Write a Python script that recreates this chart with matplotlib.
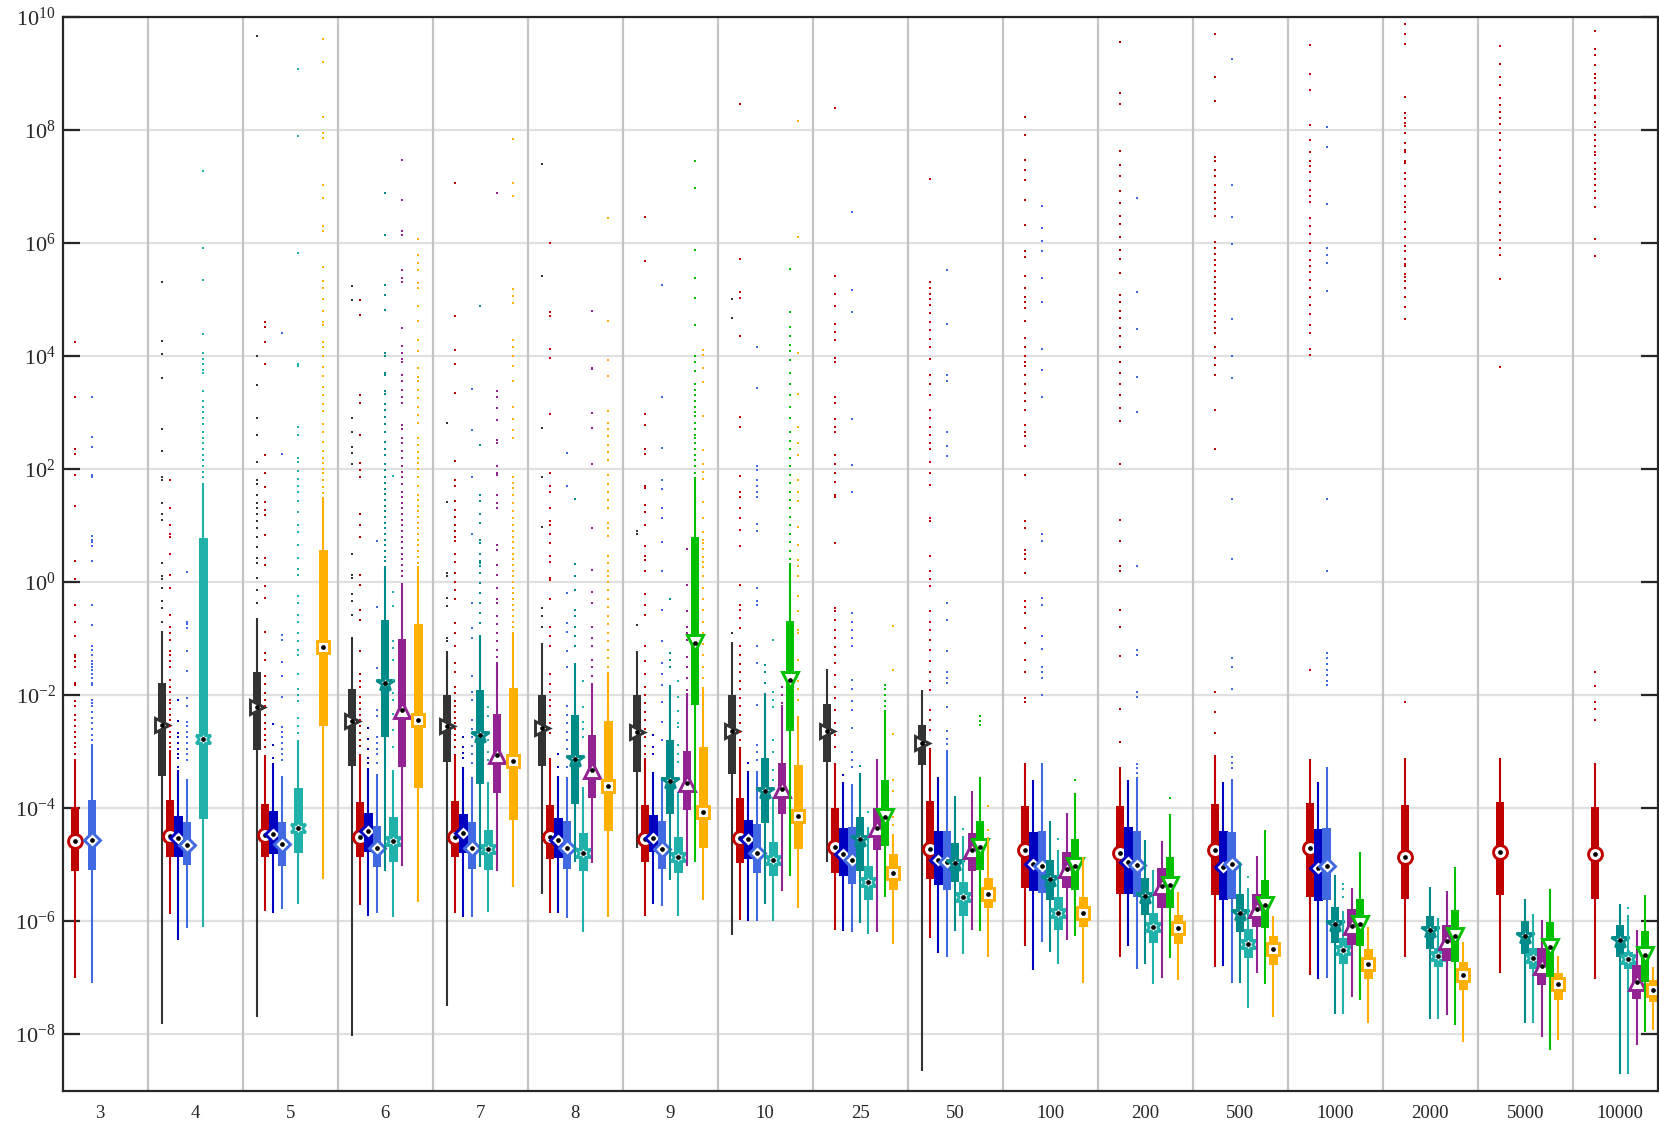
import numpy as np
import matplotlib
matplotlib.use("Agg")
import matplotlib.pyplot as plt
from matplotlib.ticker import NullLocator

plt.rcParams['font.family'] = ['Liberation Serif', 'DejaVu Serif']
plt.rcParams['mathtext.fontset'] = 'custom'
plt.rcParams['mathtext.rm'] = 'Liberation Serif'
plt.rcParams['mathtext.it'] = 'Liberation Serif:italic'

groups = ['3', '4', '5', '6', '7', '8', '9', '10', '25', '50', '100',
          '200', '500', '1000', '2000', '5000', '10000']

# box stats in log10: (whisker low, q1, median, q3, whisker high)
black_stats = {
    '4': (-7.82, -3.44, -2.53, -1.78, -0.86),
    '5': (-7.7, -2.98, -2.21, -1.59, -0.64),
    '6': (-8.03, -3.25, -2.46, -1.89, -0.98),
    '7': (-7.5, -3.18, -2.54, -2.0, -1.23),
    '8': (-5.52, -3.25, -2.59, -2.0, -1.08),
    '9': (-4.7, -3.36, -2.65, -2.0, -1.23),
    '10': (-6.25, -3.4, -2.63, -2.0, -1.07),
    '25': (-4.96, -3.19, -2.63, -2.16, -1.54),
    '50': (-8.66, -3.23, -2.85, -2.53, -1.91),
}
black_out = {
    '4': [5.31, 4.27, 4.03, 3.6, 2.71, 2.31, 1.86, 1.8, 1.39, 1.2, 1.1, 0.33, 0.1, 0.05, -0.1, -0.34, -0.46, -0.7],
    '5': [9.66, 3.99, 3.48, 2.9, 2.6, 2.12, 1.8, 1.73, 1.54, 1.4, 1.3, 1.21, 1.08, 0.95, 0.8, 0.62, 0.42, 0.33, 0.07, -0.14, -0.37],
    '6': [5.23, 4.98, 2.9, 2.65, 2.39, 2.29, 2.09, 0.49, 0.13, 0.07, -0.22, -0.34, -0.58],
    '7': [2.82, 1.41, 0.16, 0.1, -0.28, -0.43, -0.99, -1.05],
    '8': [7.39, 5.41, 2.73, 1.86, 0.98, -0.46, -0.6, -0.79],
    '9': [0.9, 0.85, -0.76],
    '10': [5.0, 4.67, -0.9],
}

red_stats = {
    '3': (-7.0, -5.12, -4.59, -3.98, -3.14),
    '4': (-5.87, -4.87, -4.49, -3.86, -2.98),
    '5': (-5.82, -4.86, -4.47, -3.93, -3.07),
    '6': (-5.71, -4.86, -4.51, -3.9, -3.04),
    '7': (-5.86, -4.87, -4.51, -3.88, -3.04),
    '8': (-5.85, -4.9, -4.51, -3.95, -3.12),
    '9': (-5.91, -4.96, -4.54, -3.94, -3.12),
    '10': (-5.98, -4.97, -4.53, -3.82, -2.92),
    '25': (-6.16, -5.14, -4.68, -3.99, -3.2),
    '50': (-6.29, -5.25, -4.73, -3.88, -2.93),
    '100': (-6.44, -5.41, -4.74, -3.97, -3.2),
    '200': (-6.63, -5.52, -4.8, -3.97, -3.27),
    '500': (-6.82, -5.54, -4.74, -3.93, -3.07),
    '1000': (-6.95, -5.58, -4.71, -3.91, -3.14),
    '2000': (-6.63, -5.6, -4.86, -3.94, -3.12),
    '5000': (-6.91, -5.54, -4.77, -3.9, -3.11),
    '10000': (-7.03, -5.61, -4.82, -3.98, -3.21),
}
red_out = {
    '3': [4.24, 3.27, 2.35, 2.27, 1.9, 1.34, 0.37, 0.06, -0.41, -0.7, -0.96, -1.29, -1.33, -1.4, -1.5, -1.78, -1.82,
          -2.1, -2.2, -2.35, -2.45, -2.55, -2.65, -2.75, -2.85, -2.92, -3.05],
    '4': [1.8, 1.31, 1.0, 0.85, 0.79, 0.5, 0.13, -0.11, -0.58, -0.79, -0.9, -1.02, -1.23, -1.3, -1.4, -1.5, -1.73,
          -1.85, -1.95, -2.09, -2.15, -2.25, -2.35, -2.45, -2.55, -2.65, -2.75, -2.85, -2.92],
    '5': [4.6, 4.51, 4.24, 3.86, 2.25, 1.93, 1.68, 1.42, 1.27, 1.18, 0.83, 0.42, 0.3, -0.08, -0.28, -0.88, -1.26,
          -1.38, -1.67, -1.8, -1.97, -2.09, -2.2, -2.35, -2.5, -2.6, -2.7, -2.8, -2.92],
    '6': [4.98, 4.72, 3.31, 3.17, 2.6, 2.11, 1.98, 1.85, 1.21, 1.01, 0.79, 0.13, -0.05, -0.49, -0.67, -1.23, -1.62,
          -1.75, -1.85, -2.03, -2.15, -2.25, -2.35, -2.45, -2.55, -2.68, -2.8, -2.9],
    '7': [7.05, 4.71, 4.1, 3.86, 3.35, 2.14, 1.8, 1.7, 1.44, 1.27, 1.15, 1.01, 0.91, 0.8, 0.72, 0.49, 0.36, 0.16,
          0.0, -0.15, -0.31, -0.73, -0.9, -1.14, -1.44, -1.6, -1.85, -1.97, -2.1, -2.2, -2.3, -2.4, -2.5, -2.6,
          -2.7, -2.8, -2.92],
    '8': [5.99, 4.78, 4.71, 4.12, 3.97, 2.97, 1.93, 1.7, 1.6, 1.31, 1.08, 1.01, 0.85, 0.69, 0.46, 0.36, 0.07, 0.04,
          -0.31, -0.79, -0.95, -1.14, -1.62, -1.8, -1.95, -2.09, -2.2, -2.35, -2.5, -2.68],
    '9': [6.45, 5.67, 2.97, 2.78, 2.35, 2.27, 1.7, 1.66, 1.37, 1.24, 1.01, 0.63, 0.46, 0.39, 0.2, -0.22, -0.4,
          -0.58, -1.14, -1.4, -1.62, -1.85, -2.0, -2.15, -2.3, -2.45, -2.6, -2.75, -2.9, -3.05],
    '10': [8.46, 5.72, 5.13, 5.03, 4.36, 2.91, 2.75, 1.88, 1.6, 1.5, 1.31, 1.14, 0.92, 0.63, -0.05, -0.4, -0.5,
           -0.64, -0.82, -1.14, -1.3, -1.45, -1.6, -1.75, -1.9, -2.05, -2.2, -2.35, -2.5, -2.65, -2.8],
    '25': [8.38, 5.41, 5.1, 4.88, 4.56, 4.42, 4.28, 3.97, 3.9, 3.27, 3.17, 2.88, 2.75, 2.65, 2.25, 2.09, 1.93,
           1.76, 1.54, 1.5, 0.69, -0.46, -0.52, -0.67, -0.85, -1.0, -1.15, -1.3, -1.44, -1.64, -1.85, -2.06,
           -2.27, -2.5, -2.7, -2.92],
    '50': [7.12, 5.31, 5.2, 5.1, 5.0, 4.9, 4.75, 4.6, 4.45, 4.3, 4.15, 3.95, 3.66, 3.5, 3.3, 3.05, 2.9, 2.75,
           2.6, 2.45, 2.35, 2.12, 1.93, 1.72, 1.14, 1.08, 0.46, 0.2, 0.05, -0.08, -0.52, -0.7, -0.85, -1.02,
           -1.2, -1.4, -1.6, -1.75, -1.91, -2.27, -2.45, -2.62],
    '100': [8.22, 7.91, 7.47, 7.29, 7.11, 6.75, 6.31, 5.86, 5.74, 5.41, 5.2, 5.05, 4.95, 4.84, 4.62, 4.31, 4.15,
            4.0, 3.9, 3.82, 3.66, 3.5, 3.35, 3.2, 3.04, 2.78, 2.65, 2.58, 2.4, 1.89, 1.08, 0.95, 0.56, 0.49,
            0.4, 0.15, -0.34, -0.45, -0.55, -0.82, -1.08, -1.38, -1.59, -2.06, -2.12],
    '200': [9.55, 8.65, 8.45, 7.63, 7.37, 7.18, 6.92, 6.71, 6.48, 6.34, 6.1, 5.88, 5.72, 5.46, 5.07, 4.95, 4.8,
            4.67, 4.5, 4.35, 4.15, 3.89, 3.7, 3.5, 3.3, 3.07, 2.84, 2.08, 1.09, 0.72, 0.29, 0.2, -0.5, -0.8,
            -1.31, -2.24, -2.83],
    '500': [9.69, 8.94, 8.5, 7.52, 7.45, 7.28, 7.19, 7.03, 6.9, 6.8, 6.7, 6.6, 6.47, 6.01, 5.9, 5.8, 5.7, 5.6,
            5.5, 5.4, 5.3, 5.2, 5.1, 5.0, 4.9, 4.8, 4.7, 4.6, 4.5, 4.41, 4.15, 3.97, 3.84, 3.67, 3.05, 2.35,
            -1.94, -2.3, -2.67],
    '1000': [9.5, 8.98, 8.7, 8.09, 7.82, 7.6, 7.45, 7.35, 7.25, 7.09, 6.93, 6.83, 6.73, 6.44, 6.3, 6.15, 6.0,
             5.85, 5.7, 5.59, 5.49, 5.35, 5.2, 5.05, 4.9, 4.74, 4.54, 4.41, 4.12, 4.02, -1.56],
    '2000': [9.87, 9.69, 9.52, 8.58, 8.3, 8.2, 8.12, 8.07, 7.95, 7.76, 7.65, 7.6, 7.45, 7.42, 7.24, 7.12, 7.0,
             6.83, 6.73, 6.63, 6.54, 6.37, 6.24, 6.1, 5.95, 5.85, 5.72, 5.63, 5.59, 5.45, 5.39, 5.33, 5.2,
             5.05, 4.87, 4.66, -2.12],
    '5000': [9.48, 9.16, 8.94, 8.8, 8.56, 8.43, 8.31, 8.2, 8.1, 7.94, 7.81, 7.65, 7.5, 7.35, 7.22, 7.05, 6.9,
             6.73, 6.6, 6.47, 6.31, 6.18, 6.05, 5.9, 5.78, 5.36, 3.81],
    '10000': [9.74, 9.42, 9.33, 9.15, 8.99, 8.92, 8.82, 8.7, 8.6, 8.56, 8.43, 8.3, 8.14, 8.04, 7.9, 7.81, 7.71,
              7.6, 7.55, 7.42, 7.3, 7.22, 7.12, 7.03, 6.91, 6.8, 6.64, 6.07, 5.77, -1.59, -1.84, -2.12, -2.25,
              -2.44],
}

dblue_stats = {
    '4': (-6.34, -4.86, -4.53, -4.14, -3.33),
    '5': (-5.86, -4.81, -4.46, -4.06, -3.21),
    '6': (-5.91, -4.77, -4.41, -4.08, -3.3),
    '7': (-5.93, -4.8, -4.44, -4.1, -3.27),
    '8': (-5.86, -4.88, -4.56, -4.17, -3.44),
    '9': (-5.7, -4.77, -4.53, -4.12, -3.36),
    '10': (-5.99, -4.9, -4.54, -4.21, -3.34),
    '25': (-6.18, -5.2, -4.81, -4.35, -3.54),
    '50': (-6.56, -5.36, -4.92, -4.4, -3.45),
    '100': (-6.87, -5.46, -4.99, -4.43, -3.51),
    '200': (-6.44, -5.52, -4.95, -4.33, -3.5),
    '500': (-6.79, -5.63, -5.05, -4.41, -3.54),
    '1000': (-7.03, -5.64, -5.06, -4.37, -3.54),
}
dblue_out = {
    '4': [-2.08, -2.46, -2.68, -2.75, -2.85, -2.95, -3.04, -3.12, -3.27],
    '5': [-2.51, -2.89, -3.12],
    '6': [-2.59, -2.77, -2.95, -3.12, -3.21],
    '7': [-2.75, -2.92, -3.02, -3.12],
    '8': [-3.04, -3.27],
    '9': [-2.71, -2.92, -3.04],
    '10': [-3.21],
    '25': [-3.42],
}

royal_stats = {
    '3': (-7.09, -5.10, -4.56, -3.85, -2.86),
    '4': (-6.12, -5.0, -4.65, -4.25, -3.48),
    '5': (-5.78, -5.03, -4.63, -4.25, -3.44),
    '6': (-5.85, -5.05, -4.7, -4.31, -3.39),
    '7': (-5.93, -5.08, -4.7, -4.25, -3.45),
    '8': (-5.95, -5.08, -4.7, -4.22, -3.45),
    '9': (-5.73, -5.07, -4.72, -4.22, -3.45),
    '10': (-5.99, -5.15, -4.79, -4.28, -3.34),
    '25': (-6.2, -5.34, -4.92, -4.34, -3.57),
    '50': (-6.63, -5.45, -4.96, -4.4, -2.98),
    '100': (-6.37, -5.5, -5.02, -4.4, -3.21),
    '200': (-6.85, -5.58, -5.01, -4.41, -3.45),
    '500': (-7.1, -5.61, -4.99, -4.43, -3.48),
    '1000': (-7.01, -5.63, -5.03, -4.35, -3.28),
}
royal_out = {
    '3': [3.27, 2.56, 2.38, 1.9, 1.85, 0.82, 0.75, 0.7, 0.63, 0.37, -0.4, -0.76, -1.14, -1.2, -1.3, -1.4, -1.45,
          -1.5, -1.55, -1.62, -1.7, -1.78, -1.82, -2.09, -2.15, -2.2, -2.3, -2.4, -2.5, -2.6, -2.7, -2.8],
    '4': [0.18, -0.7, -0.75, -0.82, -1.23, -1.57, -2.06, -2.2, -2.47, -2.55, -2.65, -2.75, -2.85, -2.95, -3.05,
          -3.15],
    '5': [4.41, 2.27, -0.93, -1.02, -1.41, -1.67, -2.03, -2.56, -2.65, -2.75, -2.85, -2.95, -3.05, -3.15],
    '6': [0.72, -0.44, -1.53, -2.27, -2.38, -2.74, -2.85, -2.95, -3.05, -3.21],
    '7': [3.42, 2.69, 1.86, 0.85, -0.37, -0.82, -0.99, -1.67, -1.94, -2.09, -2.44, -2.6, -2.75, -2.9, -3.05, -3.2],
    '8': [2.29, 1.7, -0.2, -0.73, -0.88, -1.23, -1.5, -2.2, -2.35, -2.5, -2.65, -2.8, -2.95, -3.1, -3.27],
    '9': [5.25, 3.28, 2.37, 1.8, 1.64, 1.3, 1.14, 0.7, 0.2, -0.49, -1.05, -1.44, -1.62, -1.82, -2.12, -2.47, -2.8],
    '10': [4.15, 3.44, 2.05, 1.98, 1.81, 1.7, 1.6, 1.5, 1.03, 0.9, -0.11, -0.34, -0.4, -1.14, -1.44, -2.18, -2.89,
           -3.0, -3.15],
    '25': [6.54, 5.16, 4.77, 2.88, 2.07, 1.59, -0.55, -0.7, -0.85, -1.0, -1.14, -1.73, -1.9, -2.1, -2.27, -2.59,
           -3.0, -3.15, -3.27],
    '50': [5.51, 4.57, 3.66, 3.55, 2.65, 2.4, 2.22, -0.37, -0.67, -1.23, -1.59, -1.7, -1.79, -2.21, -2.63, -2.77,
           -2.86],
    '100': [6.65, 6.27, 6.03, 5.85, 5.38, 4.96, 4.13, 3.75, 3.27, 0.85, 0.72, -0.28, -0.4, -0.95, -1.19, -1.5,
            -1.6, -1.7, -2.0],
    '200': [6.79, 5.13, 4.48, 3.62, 3.01, 0.28, -1.2, -1.3, -1.94, -2.03, -3.22, -3.3, -3.38],
    '500': [9.25, 7.03, 6.46, 5.98, 4.65, 3.99, 3.6, 1.47, 0.41, -1.35, -1.5, -1.9, -3.1, -3.2, -3.3],
    '1000': [8.04, 7.7, 6.68, 5.9, 5.78, 5.65, 5.14, 1.47, 0.2, -1.26, -1.35, -1.45, -1.55, -1.65, -1.75, -1.82],
}

teal_stats = {
    '6': (-5.11, -2.75, -1.79, -0.67, 0.28),
    '7': (-5.05, -3.58, -2.71, -1.91, -0.93),
    '8': (-4.96, -3.92, -3.14, -2.36, -1.44),
    '9': (-5.28, -4.1, -3.53, -2.79, -1.82),
    '10': (-5.69, -4.27, -3.69, -3.12, -1.97),
    '25': (-6.04, -5.11, -4.54, -4.16, -3.38),
    '50': (-6.17, -5.3, -4.97, -4.62, -3.79),
    '100': (-6.54, -5.63, -5.25, -4.92, -4.22),
    '200': (-6.76, -5.9, -5.56, -5.24, -4.57),
    '500': (-7.09, -6.2, -5.86, -5.52, -4.96),
    '1000': (-7.64, -6.39, -6.05, -5.75, -5.18),
    '2000': (-7.74, -6.5, -6.16, -5.91, -5.39),
    '5000': (-7.81, -6.58, -6.27, -5.99, -5.6),
    '10000': (-8.7, -6.63, -6.34, -6.06, -5.69),
}
teal_out = {
    '6': [6.88, 6.13, 5.25, 5.07, 4.82, 4.05, 3.99, 3.69, 3.66, 3.37, 3.33, 3.14, 3.04, 2.91, 2.8, 2.65, 2.48,
          2.35, 2.25, 2.09, 1.98, 1.86, 1.75, 1.65, 1.55, 1.45, 1.35, 1.25, 1.15, 1.05, 0.95, 0.85, 0.75, 0.65,
          0.55, 0.45, 0.37],
    '7': [4.89, 2.42, 1.54, 1.44, 1.21, 1.05, 0.75, 0.69, 0.5, 0.37, 0.33, 0.28, 0.16, -0.02, -0.2, -0.37, -0.55,
          -0.73],
    '8': [1.47, 0.31, 0.1, -0.14, -0.49, -0.61, -0.79, -0.95, -1.14],
    '9': [-0.31, -1.26, -1.38, -1.5],
    '10': [-1.47, -1.6, -1.79],
    '25': [-3.26],
}

turq_stats = {
    '4': (-6.1, -4.19, -2.77, 0.78, 1.75),
    '5': (-5.69, -4.8, -4.36, -3.64, -2.79),
    '6': (-5.93, -4.96, -4.59, -4.16, -3.33),
    '7': (-5.83, -5.09, -4.73, -4.38, -3.54),
    '8': (-6.2, -5.12, -4.79, -4.44, -3.63),
    '9': (-5.91, -5.14, -4.86, -4.51, -3.72),
    '10': (-5.99, -5.21, -4.92, -4.6, -3.8),
    '25': (-6.23, -5.63, -5.3, -5.02, -4.34),
    '50': (-6.59, -5.91, -5.58, -5.31, -4.5),
    '100': (-6.75, -6.15, -5.86, -5.58, -4.75),
    '200': (-7.12, -6.38, -6.1, -5.85, -5.09),
    '500': (-7.54, -6.66, -6.4, -6.14, -5.41),
    '1000': (-7.64, -6.76, -6.51, -6.3, -5.82),
    '2000': (-7.74, -6.81, -6.61, -6.48, -5.95),
    '5000': (-7.81, -6.84, -6.66, -6.48, -5.88),
    '10000': (-8.7, -6.84, -6.67, -6.54, -5.9),
}
turq_out = {
    '4': [7.27, 5.9, 5.34, 4.39, 4.05, 3.95, 3.85, 3.75, 3.7, 3.37, 3.2, 3.1, 3.0, 2.9, 2.8, 2.65, 2.55, 2.45,
          2.35, 2.25, 2.15, 2.05, 1.95, 1.85],
    '5': [9.08, 7.89, 5.82, 3.86, 3.82, 2.75, 2.6, 2.19, 2.12, 1.96, 1.83, 1.7, 1.6, 1.44, 1.24, 1.0, 0.88, 0.65,
          0.42, 0.23, 0.13, -0.25, -0.37, -0.58, -0.7, -0.9, -1.05, -1.2, -1.3, -1.62, -1.9, -2.0, -2.1, -2.4,
          -2.55, -2.68],
    '6': [1.88, -0.17, -0.43, -1.05, -1.17, -1.38, -1.73, -1.97, -2.09, -2.33, -2.62, -2.92],
    '7': [-2.21, -2.38, -2.8, -3.0, -3.15],
    '8': [-1.76, -2.21, -2.47, -2.6, -2.74],
    '9': [-1.76, -2.03, -2.28, -2.5, -2.56, -2.89, -3.04, -3.18],
    '10': [-1.02, -1.94, -2.08, -2.21, -2.8, -3.0, -3.33, -3.51],
    '25': [-4.07],
    '50': [-4.37],
    '100': [-4.54],
    '500': [-5.22],
    '1000': [-5.34, -5.43, -5.58],
    '10000': [-5.76],
}

purple_stats = {
    '6': (-5.02, -3.28, -2.27, -1.01, -0.02),
    '7': (-5.11, -3.73, -3.07, -2.33, -1.41),
    '8': (-4.98, -3.82, -3.32, -2.7, -1.79),
    '9': (-5.02, -4.03, -3.55, -2.99, -1.97),
    '10': (-5.46, -4.11, -3.67, -3.2, -2.18),
    '25': (-6.2, -4.75, -4.36, -3.99, -3.14),
    '50': (-6.15, -5.12, -4.74, -4.44, -3.7),
    '100': (-6.34, -5.42, -5.08, -4.78, -4.09),
    '200': (-7.01, -5.77, -5.38, -5.06, -4.59),
    '500': (-6.91, -6.11, -5.79, -5.52, -4.84),
    '1000': (-7.34, -6.42, -6.08, -5.79, -5.41),
    '2000': (-7.66, -6.7, -6.35, -6.07, -5.47),
    '5000': (-8.05, -7.13, -6.8, -6.48, -5.98),
    '10000': (-8.19, -7.38, -7.07, -6.78, -6.16),
}
purple_out = {
    '6': [7.47, 6.75, 6.2, 6.13, 5.51, 5.38, 5.31, 4.49, 4.18, 4.05, 3.95, 3.89, 3.66, 3.56, 3.4, 3.28, 3.17, 2.78,
          2.71, 2.55, 2.45, 2.32, 2.2, 2.05, 1.95, 1.86, 1.73, 1.6, 1.5, 1.4, 1.3, 1.2, 1.1, 1.0, 0.9, 0.8, 0.7,
          0.6, 0.5, 0.4, 0.3, 0.2, 0.1],
    '7': [6.88, 3.37, 3.27, 3.07, 2.86, 2.52, 2.45, 2.06, 1.93, 1.9, 1.54, 1.4, 1.31, 0.65, 0.56, 0.3, 0.13,
          -0.11, -0.31, -0.37, -0.61, -0.75, -0.9, -1.05, -1.2, -1.32],
    '8': [4.79, 3.79, 3.76, 2.99, 2.73, 2.08, 0.96, 0.22, -0.17, -0.37, -0.79, -1.0, -1.14, -1.38, -1.5, -1.67],
    '9': [0.59, -0.05, -0.52, -0.79, -0.9, -1.02, -1.32, -1.5, -1.7, -1.91],
    '10': [-1.85, -2.0, -2.15],
}

green_stats = {
    '9': (-4.96, -2.18, -1.08, 0.8, 1.85),
    '10': (-5.2, -2.64, -1.73, -0.69, 0.34),
    '25': (-5.58, -4.67, -4.16, -3.5, -2.27),
    '50': (-6.17, -5.09, -4.68, -4.23, -3.45),
    '100': (-6.27, -5.45, -5.03, -4.54, -3.73),
    '200': (-6.66, -5.77, -5.36, -4.87, -4.11),
    '500': (-7.11, -6.13, -5.71, -5.27, -4.38),
    '1000': (-7.4, -6.44, -6.05, -5.61, -4.78),
    '2000': (-7.84, -6.72, -6.27, -5.81, -5.04),
    '5000': (-8.28, -6.99, -6.45, -6.01, -5.44),
    '10000': (-7.97, -7.07, -6.6, -6.17, -5.54),
}
green_out = {
    '9': [7.44, 6.97, 5.87, 5.38, 5.03, 4.54, 3.99, 3.9, 3.74, 3.5, 3.4, 3.3, 3.2, 3.1, 3.0, 2.94, 2.81, 2.7,
          2.6, 2.55, 2.45, 2.35, 2.25, 2.15, 2.05, 1.93],
    '10': [5.54, 4.77, 4.51, 4.35, 4.2, 4.08, 3.92, 3.7, 3.5, 3.3, 3.1, 2.9, 2.65, 2.5, 2.35, 2.2, 2.05, 1.9,
           1.75, 1.6, 1.45, 1.3, 1.15, 1.0, 0.85, 0.7, 0.55, 0.4],
    '25': [-1.82, -1.9, -2.0, -2.1, -2.2],
    '50': [-2.38, -2.46, -2.53],
    '100': [-3.5],
    '200': [-3.83],
}

orange_stats = {
    '5': (-5.25, -2.55, -1.15, 0.56, 1.5),
    '6': (-5.67, -3.64, -2.44, -0.74, 0.28),
    '7': (-5.4, -4.21, -3.17, -1.88, -0.88),
    '8': (-5.93, -4.41, -3.61, -2.46, -1.59),
    '9': (-5.63, -4.71, -4.07, -2.92, -1.85),
    '10': (-5.76, -4.72, -4.14, -3.23, -2.38),
    '25': (-6.41, -5.45, -5.14, -4.82, -4.45),
    '50': (-6.64, -5.77, -5.52, -5.24, -4.51),
    '100': (-7.09, -6.11, -5.85, -5.58, -4.87),
    '200': (-7.05, -6.41, -6.12, -5.89, -5.48),
    '500': (-7.69, -6.78, -6.5, -6.26, -5.91),
    '1000': (-7.8, -7.02, -6.75, -6.5, -6.11),
    '2000': (-8.14, -7.22, -6.96, -6.72, -6.37),
    '5000': (-8.11, -7.4, -7.12, -6.91, -6.62),
    '10000': (-7.93, -7.43, -7.21, -7.04, -6.81),
}
orange_out = {
    '5': [9.6, 9.2, 8.22, 7.94, 7.86, 7.03, 6.8, 6.3, 6.2, 5.58, 5.33, 5.2, 5.01, 4.8, 4.6, 4.55, 4.25, 4.15, 3.99,
          3.8, 3.65, 3.45, 3.3, 3.15, 3.03, 2.8, 2.65, 2.48, 2.32, 2.2, 2.1, 2.0, 1.93, 1.8, 1.68, 1.57],
    '6': [6.06, 5.78, 5.65, 5.51, 5.29, 5.2, 4.88, 4.61, 4.28, 4.08, 3.79, 3.63, 3.56, 3.4, 3.25, 3.1, 2.95, 2.81,
          2.55, 2.42, 2.3, 2.2, 2.1, 2.0, 1.86, 1.7, 1.54, 1.45, 1.35, 1.25, 1.15, 1.05, 0.95, 0.85, 0.75, 0.65,
          0.55, 0.45, 0.34],
    '7': [7.83, 7.05, 6.82, 5.18, 5.06, 4.93, 4.28, 4.15, 4.0, 3.82, 3.56, 3.1, 2.89, 2.68, 2.55, 1.86, 1.75, 1.67,
          1.54, 1.4, 1.25, 1.14, 1.01, 0.9, 0.8, 0.7, 0.6, 0.5, 0.4, 0.3, 0.2, 0.1, 0.0, -0.1, -0.2, -0.3, -0.4,
          -0.5, -0.6, -0.7, -0.8],
    '8': [6.44, 4.62, 3.92, 3.65, 3.03, 2.81, 2.7, 2.58, 2.42, 2.3, 2.16, 1.9, 1.73, 1.6, 1.45, 1.31, 1.05, 0.95,
          0.82, 0.46, 0.33, 0.2, 0.1, 0.0, -0.15, -0.3, -0.45, -0.6, -0.75, -0.9, -1.05, -1.2, -1.35, -1.5],
    '9': [4.1, 4.01, 3.78, 3.54, 2.94, 2.34, 2.09, 1.95, 1.83, 1.42, 1.14, 0.88, 0.75, 0.69, 0.59, 0.45, 0.35,
          0.26, 0.1, -0.1, -0.3, -0.5, -0.7, -0.9, -1.1, -1.3, -1.5, -1.7],
    '10': [8.15, 6.11, 4.05, 3.33, 2.75, 2.45, 2.25, 1.8, 1.6, 1.44, 0.98, 0.65, 0.39, 0.29, 0.1, -0.25, -0.52,
           -0.85, -0.9, -1.38, -1.76, -1.9, -2.09],
    '25': [-0.78, -1.56, -2.69, -3.51, -3.69, -4.16, -4.3],
    '50': [-3.97, -4.38],
}

hexagram = (6, 1, 0)

# (stats, outliers, colour, median marker, marker size) in slot order inside each group
series = [
    (black_stats, black_out, '#333333', '>', 10.5),
    (red_stats, red_out, '#C00000', 'o', 10.0),
    (dblue_stats, dblue_out, '#0000C0', 'D', 8.0),
    (royal_stats, royal_out, '#4169E1', 'D', 8.0),
    (teal_stats, teal_out, '#008B8B', '*', 13.0),
    (turq_stats, turq_out, '#20B2AA', hexagram, 12.0),
    (purple_stats, purple_out, '#932393', '^', 11.0),
    (green_stats, green_out, '#00C000', 'v', 11.0),
    (orange_stats, orange_out, '#FFB000', 's', 8.5),
]

slot0 = 0.1474
slot_step = 0.0877
box_w = 0.088

fig = plt.figure(figsize=(16.59, 11.25), dpi=100)
ax = fig.add_axes([0.03779, 0.03049, 0.96148, 0.95467])
ax.set_yscale('log')

for gi, g in enumerate(groups):
    for k, (stats, outs, col, mk, ms) in enumerate(series):
        if g not in stats:
            continue
        lo, q1, med, q3, hi = stats[g]
        x = gi + slot0 + k * slot_step
        z = 3 + k * 0.1
        ax.plot([x, x], [10 ** lo, 10 ** hi], color=col, lw=1.5, zorder=z, solid_capstyle='butt')
        ax.bar(x, 10 ** q3 - 10 ** q1, bottom=10 ** q1, width=box_w, color=col, lw=0, zorder=z + 0.01)
        if g in outs:
            vals = 10 ** np.array(outs[g])
            ax.plot(np.full(len(vals), x), vals, ls='none', marker='s', ms=1.9, mew=0, color=col, zorder=z)
        ax.plot(x, 10 ** med, marker=mk, ms=ms, mfc='white', mec=col, mew=2.1, zorder=z + 0.02)
        ax.plot(x, 10 ** med, marker='o', ms=3.4, color='black', mew=0, zorder=z + 0.03)

# group separators and horizontal grid
for b in range(1, len(groups)):
    ax.axvline(b, color='#c4c4c4', lw=1.6, zorder=1)
yt = [10.0 ** e for e in range(-8, 11, 2)]
for v in yt:
    ax.axhline(v, color='#e0e0e0', lw=1.6, zorder=0.5)

ax.set_xlim(0.105, len(groups) - 0.104)
ax.set_ylim(1e-9, 1e10)
ax.set_yticks(yt)
ax.set_yticklabels([r'$10^{%d}$' % e for e in range(-8, 11, 2)])
ax.yaxis.set_minor_locator(NullLocator())
ax.set_xticks(np.arange(len(groups)) + 0.5)
ax.set_xticklabels(groups)
ax.tick_params(axis='y', direction='in', length=12, width=1.6, right=True, labelsize=16, pad=5,
               colors='#262626')
ax.tick_params(axis='x', length=0, labelsize=13.5, pad=10, colors='#262626')
for s in ax.spines.values():
    s.set_color('#262626')
    s.set_linewidth(1.6)
    s.set_zorder(10)

fig.savefig('out.png', dpi=100)
